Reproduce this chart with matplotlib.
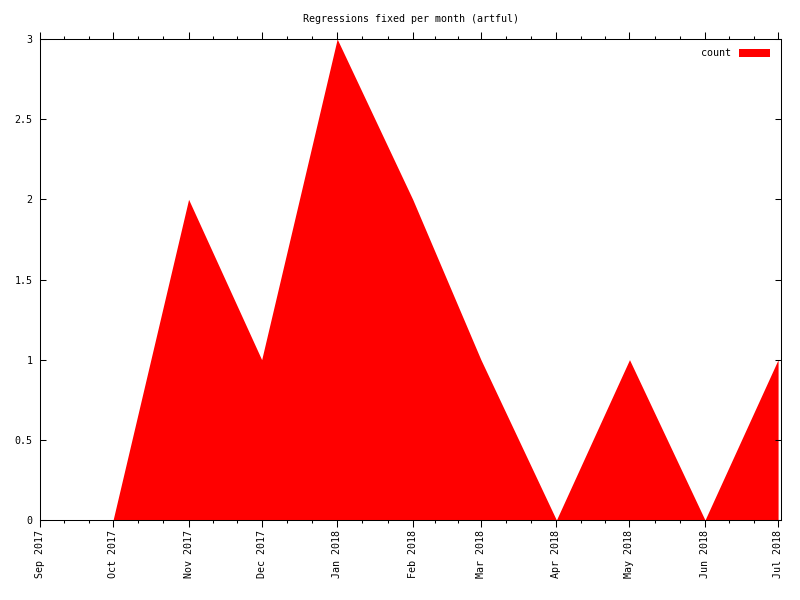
import matplotlib
matplotlib.use("Agg")
import matplotlib.pyplot as plt
import matplotlib.dates as mdates
from matplotlib.patches import Patch
import numpy as np
import datetime as dt

months = ["2017-10", "2017-11", "2017-12", "2018-01", "2018-02",
          "2018-03", "2018-04", "2018-05", "2018-06", "2018-07"]
counts = [0, 2, 1, 3, 2, 1, 0, 1, 0, 1]
tick_months = ["2017-09", "2017-10", "2017-11", "2017-12", "2018-01", "2018-02",
               "2018-03", "2018-04", "2018-05", "2018-06", "2018-07"]
title = "Regressions fixed per month (artful)"
series_name = "count"

def to_date(s):
    y, m = s.split("-")
    return dt.datetime(int(y), int(m), 1)

x = [to_date(m) for m in months]
ticks = [to_date(m) for m in tick_months]

plt.rcParams['font.family'] = ['DejaVu Sans Mono']
fs = 7.2

fig = plt.figure(figsize=(8, 6), dpi=100)
ax = fig.add_axes([40/800, 1-520/600, (781-40)/800, (520-39)/600])

ax.fill_between(x, counts, 0, color='#ff0000', linewidth=0)

ax.set_xlim(ticks[0], ticks[-1] + dt.timedelta(days=1.2))
ax.set_ylim(0, 3)

ax.set_xticks(ticks)
ax.set_xticklabels([t.strftime("%b %Y") for t in ticks], rotation=90,
                   ha='center', va='top', fontsize=fs)
minor = []
for a, b in zip(ticks[:-1], ticks[1:]):
    d = (b - a) / 3
    minor += [a + d, a + 2 * d]
ax.set_xticks(minor, minor=True)

ax.set_yticks([0, 0.5, 1, 1.5, 2, 2.5, 3])
ax.set_yticklabels(["0", "0.5", "1", "1.5", "2", "2.5", "3"], fontsize=fs)

ax.tick_params(axis='x', which='major', direction='out', length=4.8, width=0.75,
               top=True, bottom=True, pad=2.5)
ax.tick_params(axis='x', which='minor', direction='out', length=2.4, width=0.75,
               top=True, bottom=True)
ax.tick_params(axis='y', which='major', direction='in', length=4.5, width=0.75,
               left=True, right=True, pad=5.5)
for s in ax.spines.values():
    s.set_linewidth(0.75)
    s.set_color('black')

fig.text(0.5 * (40 + 781) / 800 + 0.0, 1 - 19/600, title, ha='center', va='center', fontsize=fs)

handle = Patch(facecolor='#ff0000', edgecolor='none')
ax.legend([handle], [series_name], loc='upper right', frameon=False,
          markerfirst=False, fontsize=fs, handlelength=3.1, handleheight=0.75,
          handletextpad=0.8, borderaxespad=0.3, bbox_to_anchor=(0.995, 0.995))

fig.savefig("out.png", dpi=100)
